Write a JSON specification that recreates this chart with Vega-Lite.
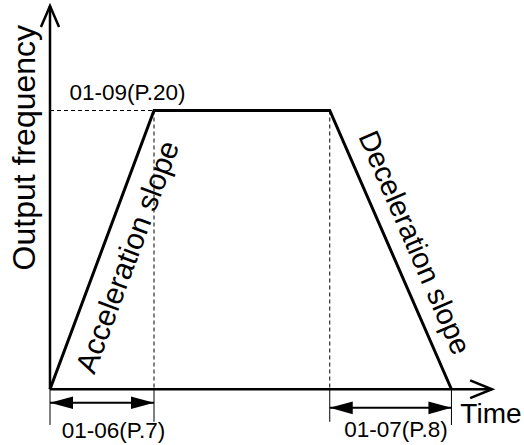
{
  "$schema": "https://vega.github.io/schema/vega-lite/v6.json",
  "autosize": {"type": "fit", "contains": "padding"},
  "width": 524,
  "height": 445,
  "padding": 0,
  "background": "white",
  "config": {"view": {"stroke": null}, "font": "Liberation Sans"},
  "datasets": {
    "lines": [
      {"id": "trap", "o": 1, "t": 0, "f": 0, "s": "trap"},
      {"id": "trap", "o": 2, "t": 10, "f": 60, "s": "trap"},
      {"id": "trap", "o": 3, "t": 26.9, "f": 60, "s": "trap"},
      {"id": "trap", "o": 4, "t": 38.6, "f": 0, "s": "trap"},
      {"id": "xaxis", "o": 1, "t": 0, "f": 0, "s": "axis"},
      {"id": "xaxis", "o": 2, "t": 42.5, "f": 0, "s": "axis"},
      {"id": "yaxis", "o": 1, "t": 0, "f": 0, "s": "axis"},
      {"id": "yaxis", "o": 2, "t": 0, "f": 82.5, "s": "axis"},
      {"id": "yarrow", "o": 1, "t": -0.87, "f": 78.0, "s": "axis"},
      {"id": "yarrow", "o": 2, "t": 0, "f": 82.5, "s": "axis"},
      {"id": "yarrow", "o": 3, "t": 0.87, "f": 78.0, "s": "axis"},
      {"id": "xarrow", "o": 1, "t": 40.4, "f": 1.9, "s": "axis"},
      {"id": "xarrow", "o": 2, "t": 42.5, "f": 0, "s": "axis"},
      {"id": "xarrow", "o": 3, "t": 40.4, "f": -1.9, "s": "axis"},
      {"id": "d1", "o": 1, "t": 0, "f": 60, "s": "dash"},
      {"id": "d1", "o": 2, "t": 10, "f": 60, "s": "dash"},
      {"id": "d2", "o": 1, "t": 10, "f": 60, "s": "dash"},
      {"id": "d2", "o": 2, "t": 10, "f": 0, "s": "dash"},
      {"id": "d3", "o": 1, "t": 26.9, "f": 60, "s": "dash"},
      {"id": "d3", "o": 2, "t": 26.9, "f": 0, "s": "dash"},
      {"id": "e1", "o": 1, "t": 0, "f": 0, "s": "thin"},
      {"id": "e1", "o": 2, "t": 0, "f": -7.7, "s": "thin"},
      {"id": "e2", "o": 1, "t": 10, "f": 0, "s": "thin"},
      {"id": "e2", "o": 2, "t": 10, "f": -7.0, "s": "thin"},
      {"id": "e3", "o": 1, "t": 26.9, "f": 0, "s": "thin"},
      {"id": "e3", "o": 2, "t": 26.9, "f": -7.0, "s": "thin"},
      {"id": "e4", "o": 1, "t": 38.6, "f": 0, "s": "thin"},
      {"id": "e4", "o": 2, "t": 38.6, "f": -7.7, "s": "thin"},
      {"id": "m1", "o": 1, "t": 0, "f": -2.9, "s": "dim"},
      {"id": "m1", "o": 2, "t": 10, "f": -2.9, "s": "dim"},
      {"id": "m2", "o": 1, "t": 26.9, "f": -4.0, "s": "dim"},
      {"id": "m2", "o": 2, "t": 38.6, "f": -4.0, "s": "dim"}
    ],
    "heads": [
      {"t": 0, "f": -2.9, "dir": "left"},
      {"t": 10, "f": -2.9, "dir": "right"},
      {"t": 26.9, "f": -4.0, "dir": "left"},
      {"t": 38.6, "f": -4.0, "dir": "right"}
    ],
    "labels": [
      {"label": "01-09(P.20)", "t": 7.45, "f": 62.3, "size": 22.5},
      {"label": "01-06(P.7)", "t": 6.1, "f": -10.5, "size": 22.5},
      {"label": "01-07(P.8)", "t": 33.27, "f": -10.3, "size": 22.5},
      {"label": "Time", "t": 42.4, "f": -7.3, "size": 28}
    ],
    "rotated": [
      {"label": "Output frequency", "t": -2.4, "f": 52.0, "angle": 270, "size": 32},
      {"label": "Acceleration slope", "t": 7.55, "f": 28.4, "angle": 290.4, "size": 30},
      {"label": "Deceleration slope", "t": 35.0, "f": 31.5, "angle": 66.6, "size": 29}
    ]
  },
  "encoding": {
    "x": {"field": "t", "type": "quantitative", "axis": null, "scale": {"domain": [-4.808, 45.577], "zero": false, "nice": false}},
    "y": {"field": "f", "type": "quantitative", "axis": null, "scale": {"domain": [-12, 83.357], "zero": false, "nice": false}}
  },
  "layer": [
    {
      "data": {"name": "lines"},
      "transform": [{"filter": "datum.s === 'dash'"}],
      "mark": {"type": "line", "color": "black", "strokeWidth": 1, "strokeDash": [4, 3]},
      "encoding": {"detail": {"field": "id"}, "order": {"field": "o"}}
    },
    {
      "data": {"name": "lines"},
      "transform": [{"filter": "datum.s === 'thin'"}],
      "mark": {"type": "line", "color": "black", "strokeWidth": 1},
      "encoding": {"detail": {"field": "id"}, "order": {"field": "o"}}
    },
    {
      "data": {"name": "lines"},
      "transform": [{"filter": "datum.s === 'dim'"}],
      "mark": {"type": "line", "color": "black", "strokeWidth": 2},
      "encoding": {"detail": {"field": "id"}, "order": {"field": "o"}}
    },
    {
      "data": {"name": "lines"},
      "transform": [{"filter": "datum.s === 'axis'"}],
      "mark": {"type": "line", "color": "black", "strokeWidth": 2.5},
      "encoding": {"detail": {"field": "id"}, "order": {"field": "o"}}
    },
    {
      "data": {"name": "lines"},
      "transform": [{"filter": "datum.s === 'trap'"}],
      "mark": {"type": "line", "color": "black", "strokeWidth": 3},
      "encoding": {"detail": {"field": "id"}, "order": {"field": "o"}}
    },
    {
      "data": {"name": "heads"},
      "transform": [{"filter": "datum.dir === 'left'"}],
      "mark": {"type": "point", "shape": "M0,0L2,-0.55L2,0.55Z", "filled": true, "color": "black", "opacity": 1, "size": 529, "strokeWidth": 0}
    },
    {
      "data": {"name": "heads"},
      "transform": [{"filter": "datum.dir === 'right'"}],
      "mark": {"type": "point", "shape": "M0,0L-2,-0.55L-2,0.55Z", "filled": true, "color": "black", "opacity": 1, "size": 529, "strokeWidth": 0}
    },
    {
      "data": {"name": "labels"},
      "mark": {"type": "text", "align": "center", "baseline": "alphabetic", "color": "black", "font": "Liberation Sans"},
      "encoding": {"text": {"field": "label"}, "size": {"field": "size", "type": "quantitative", "scale": null}}
    },
    {
      "data": {"name": "rotated"},
      "mark": {"type": "text", "align": "center", "baseline": "middle", "color": "black", "font": "Liberation Sans"},
      "encoding": {
        "text": {"field": "label"},
        "size": {"field": "size", "type": "quantitative", "scale": null},
        "angle": {"field": "angle", "type": "quantitative", "scale": null}
      }
    }
  ]
}
